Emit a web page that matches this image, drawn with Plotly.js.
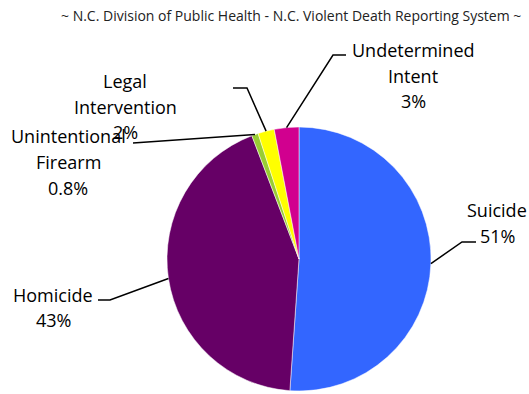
<!DOCTYPE html>
<html>
<head>
<meta charset="utf-8">
<script src="https://cdn.plot.ly/plotly-3.0.1.min.js"></script>
<style>html,body{margin:0;padding:0;background:#fff;}#chart{width:529px;height:394px;}</style>
</head>
<body>
<div id="chart"></div>
<script>
// Data
const categories = ["Suicide", "Homicide", "Unintentional Firearm", "Legal Intervention", "Undetermined Intent"];
const labelLines = [["Suicide", "51%"], ["Homicide", "43%"], ["Unintentional", "Firearm", "0.8%"], ["Legal", "Intervention", "2%"], ["Undetermined", "Intent", "3%"]];
const values = [51, 43, 0.8, 2, 3];
const colors = ["#3366FF", "#660066", "#99CC33", "#FFFF00", "#D1008F"];

// Layout geometry (pixels)
const W = 529, H = 394;
const cx = 299, cy = 259, R = 132;
const px = x => x / W;
const py = y => 1 - y / H;
const lineGap = 25.5;

// label centers and leader elbows (pixel positions)
const labelPos = [[497, 223], [53, 307.5], [68, 162], [125, 106.5], [413, 75.5]];
const elbows = [
  [[462, 242], [476, 242]],
  [[110, 300], [98, 300]],
  [[133, 143]],
  [[247, 88], [233, 88]],
  [[333, 55], [346, 55]]
];

const total = values.reduce((a, b) => a + b, 0);
let cum = 0;
const shapes = [];
const annotations = [];
values.forEach((v, i) => {
  const mid = (cum + v / 2) / total;
  cum += v;
  const ang = mid * 2 * Math.PI;
  const sx = cx + R * Math.sin(ang), sy = cy - R * Math.cos(ang);
  let path = `M ${px(sx)} ${py(sy)}`;
  elbows[i].forEach(p => { path += ` L ${px(p[0])} ${py(p[1])}`; });
  shapes.push({type: "path", xref: "paper", yref: "paper", path: path,
               line: {color: "#000", width: 1.5}});
  const lines = labelLines[i];
  const n = lines.length;
  lines.forEach((t, k) => {
    const yy = labelPos[i][1] + (k - (n - 1) / 2) * lineGap;
    annotations.push({xref: "paper", yref: "paper", x: px(labelPos[i][0]), y: py(yy),
                      xanchor: "center", yanchor: "middle", showarrow: false, align: "center",
                      text: t, font: {family: "Open Sans, Liberation Sans, sans-serif", size: 18, color: "#000"}});
  });
});

annotations.push({xref: "paper", yref: "paper", x: px(291), y: py(15), xanchor: "center", yanchor: "middle",
                  showarrow: false, text: "~ N.C. Division of Public Health - N.C. Violent Death Reporting System ~",
                  font: {family: "Open Sans, Liberation Sans, sans-serif", size: 14, color: "#222"}});

const trace = {
  type: "pie",
  labels: categories,
  values: values,
  sort: false,
  direction: "clockwise",
  rotation: 0,
  textinfo: "none",
  hoverinfo: "label+percent",
  marker: {colors: colors, line: {color: "#fff", width: 0.5}},
  domain: {x: [px(cx - R), px(cx + R)], y: [py(cy + R), py(cy - R)]},
  showlegend: false
};

Plotly.newPlot("chart", [trace], {
  width: W, height: H,
  margin: {l: 0, r: 0, t: 0, b: 0},
  paper_bgcolor: "#fff",
  showlegend: false,
  shapes: shapes,
  annotations: annotations
}, {displayModeBar: false, staticPlot: true});
</script>
</body>
</html>
